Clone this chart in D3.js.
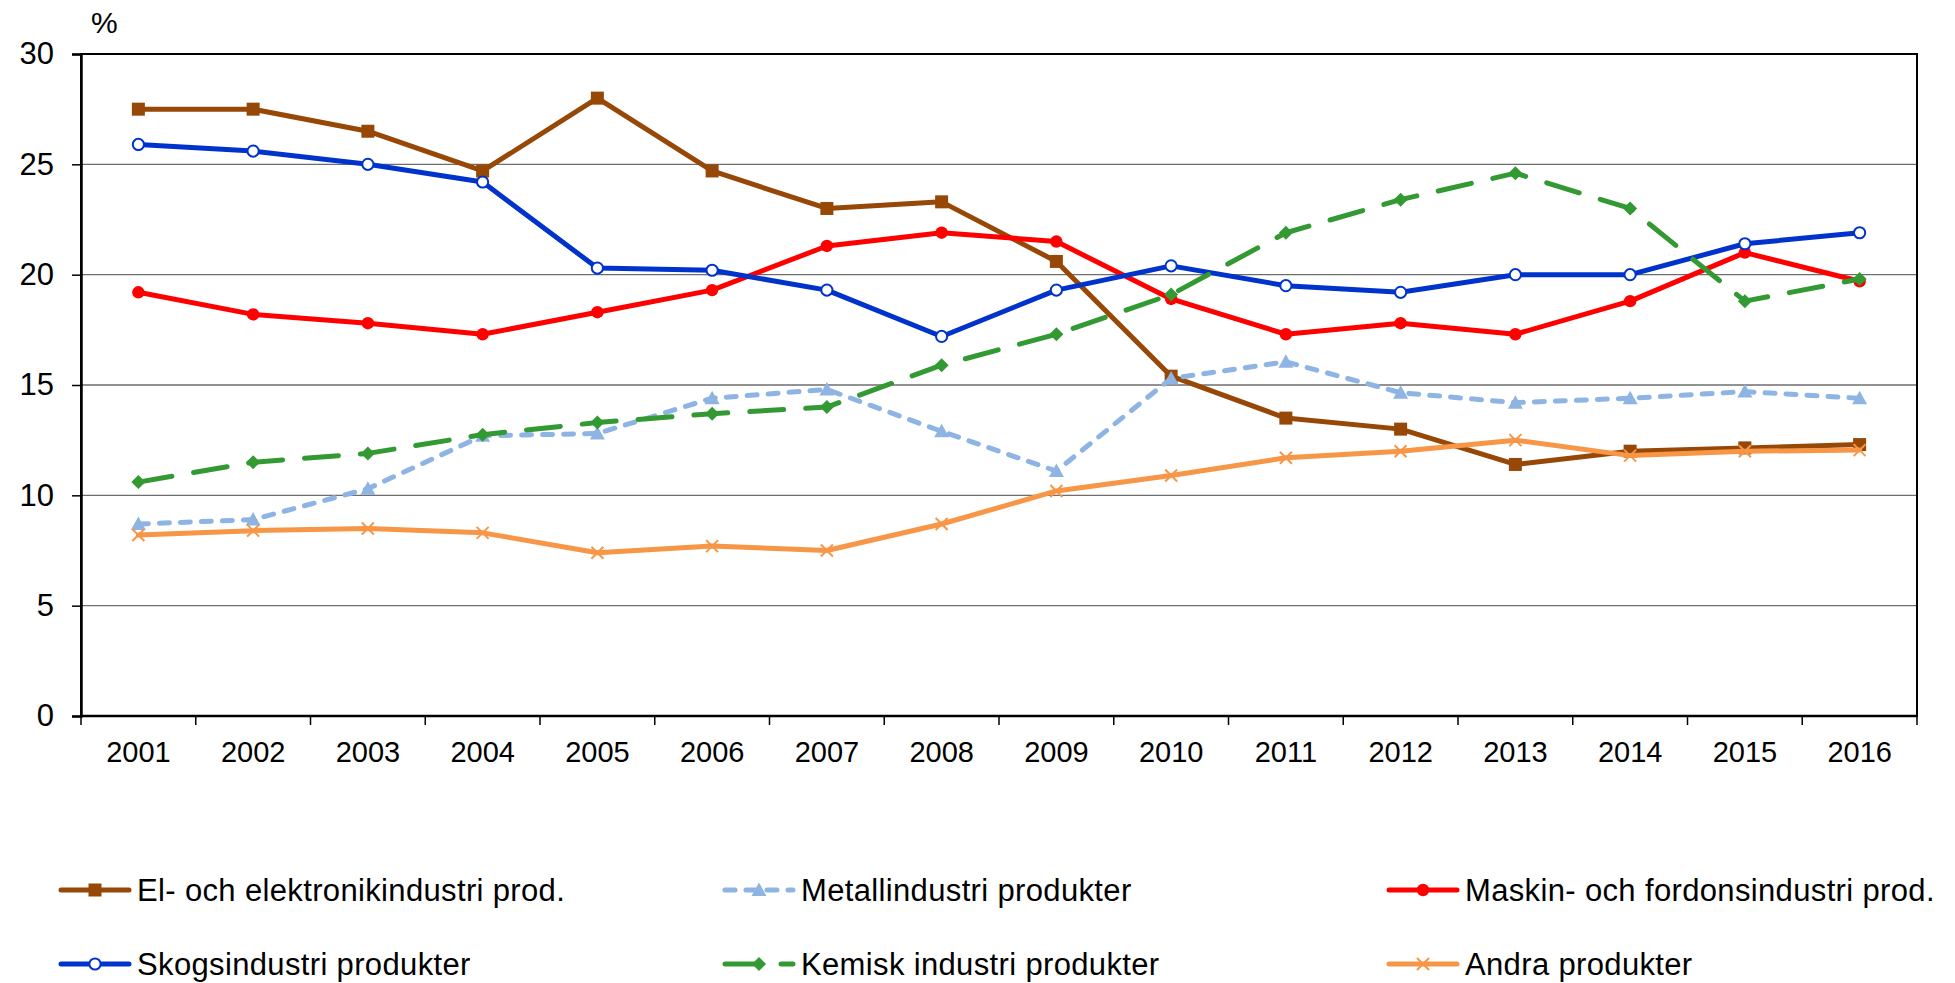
<!DOCTYPE html>
<html><head><meta charset="utf-8">
<script src="https://cdn.jsdelivr.net/npm/d3@7"></script>
<style>body{margin:0;background:#fff}svg{display:block}text{font-family:"Liberation Sans",Arial,sans-serif;fill:#000}</style>
</head><body>
<svg id="c" width="1955" height="983"></svg>
<script>
const years = ["2001","2002","2003","2004","2005","2006","2007","2008","2009","2010","2011","2012","2013","2014","2015","2016"];
const yTicks = [0,5,10,15,20,25,30];
const elValues = [27.5,27.5,26.5,24.7,28.0,24.7,23.0,23.3,20.6,15.4,13.5,13.0,11.4,12.0,12.15,12.3];
const metallValues = [8.7,8.9,10.3,12.7,12.8,14.4,14.8,12.9,11.1,15.3,16.05,14.65,14.2,14.4,14.7,14.4];
const maskinValues = [19.2,18.2,17.8,17.3,18.3,19.3,21.3,21.9,21.5,18.9,17.3,17.8,17.3,18.8,21.0,19.7];
const skogValues = [25.9,25.6,25.0,24.2,20.3,20.2,19.3,17.2,19.3,20.4,19.5,19.2,20.0,20.0,21.4,21.9];
const kemiskValues = [10.6,11.5,11.9,12.75,13.3,13.7,14.0,15.9,17.3,19.1,21.9,23.4,24.6,23.0,18.8,19.8];
const andraValues = [8.2,8.4,8.5,8.3,7.4,7.7,7.5,8.7,10.2,10.9,11.7,12.0,12.5,11.8,12.0,12.05];
const seriesNames = ["El- och elektronikindustri prod.","Metallindustri produkter","Maskin- och fordonsindustri prod.","Skogsindustri produkter","Kemisk industri produkter","Andra produkter"];

const series = [
  {name:seriesNames[0], values:elValues, color:"#974706", dash:null, marker:"square"},
  {name:seriesNames[1], values:metallValues, color:"#8EB4E3", dash:"10,11", marker:"triangle"},
  {name:seriesNames[2], values:maskinValues, color:"#FF0000", dash:null, marker:"dot"},
  {name:seriesNames[3], values:skogValues, color:"#0033CC", dash:null, marker:"open"},
  {name:seriesNames[4], values:kemiskValues, color:"#339933", dash:"34,22", marker:"diamond"},
  {name:seriesNames[5], values:andraValues, color:"#F79646", dash:null, marker:"cross"}
];

const L=81, R=1917, T=54, B=716;
const svg = d3.select("#c");
const x = d3.scaleBand().domain(years).range([L,R]);
const y = d3.scaleLinear().domain([0,30]).range([B,T]);

svg.append("g").selectAll("line").data(yTicks.filter(d=>d>0&&d<30)).join("line")
  .attr("x1",L).attr("x2",R).attr("y1",d=>y(d)).attr("y2",d=>y(d))
  .attr("stroke","#6e6e6e").attr("stroke-width",1.3);

svg.append("rect").attr("x",L).attr("y",T).attr("width",R-L).attr("height",B-T)
  .attr("fill","none").attr("stroke","#000").attr("stroke-width",2);

const ya = svg.append("g").attr("transform",`translate(${L},0)`)
  .call(d3.axisLeft(y).tickValues(yTicks).tickSize(9).tickPadding(18).tickFormat(d3.format("d")));
ya.select(".domain").attr("stroke","#000").attr("stroke-width",2.5);
ya.selectAll(".tick line").attr("stroke","#000").attr("stroke-width",1.5);
ya.selectAll("text").attr("font-size",31).attr("font-family","Liberation Sans, Arial");

const xa = svg.append("g").attr("transform",`translate(0,${B})`)
  .call(d3.axisBottom(x).tickSize(0).tickPadding(25));
xa.select(".domain").remove();
xa.selectAll("text").attr("font-size",29).attr("font-family","Liberation Sans, Arial");
svg.append("g").selectAll("line").data(years.map(d=>x(d)).concat([R])).join("line")
  .attr("x1",d=>d).attr("x2",d=>d).attr("y1",B).attr("y2",B+9)
  .attr("stroke","#000").attr("stroke-width",1.5);
svg.append("line").attr("x1",L).attr("x2",R).attr("y1",B).attr("y2",B).attr("stroke","#000").attr("stroke-width",2.5);

svg.append("text").attr("x",91).attr("y",33).attr("font-size",30).text("%");

function drawMarker(g, type, color, cx, cy){
  if(type==="square"){
    g.append("rect").attr("x",cx-6.5).attr("y",cy-6.5).attr("width",13).attr("height",13).attr("fill",color);
  } else if(type==="triangle"){
    g.append("path").attr("d",`M${cx},${cy-7.5}L${cx+7.5},${cy+6}L${cx-7.5},${cy+6}Z`).attr("fill",color);
  } else if(type==="dot"){
    g.append("circle").attr("cx",cx).attr("cy",cy).attr("r",6.2).attr("fill",color);
  } else if(type==="open"){
    g.append("circle").attr("cx",cx).attr("cy",cy).attr("r",5.6).attr("fill","#fff").attr("stroke",color).attr("stroke-width",2);
  } else if(type==="diamond"){
    g.append("path").attr("d",`M${cx},${cy-7}L${cx+7},${cy}L${cx},${cy+7}L${cx-7},${cy}Z`).attr("fill",color);
  } else if(type==="cross"){
    g.append("path").attr("d",`M${cx-6},${cy-6}L${cx+6},${cy+6}M${cx+6},${cy-6}L${cx-6},${cy+6}`)
      .attr("stroke",color).attr("stroke-width",2).attr("fill","none");
  }
}

const line = d3.line().x((d,i)=>x(years[i])+x.bandwidth()/2).y(d=>y(d));
series.forEach(s=>{
  const g = svg.append("g");
  g.append("path").attr("d",line(s.values)).attr("fill","none")
    .attr("stroke",s.color).attr("stroke-width",5)
    .attr("stroke-linejoin","round").attr("stroke-linecap","round")
    .attr("stroke-dasharray",s.dash);
  s.values.forEach((v,i)=>drawMarker(g,s.marker,s.color,x(years[i])+x.bandwidth()/2,y(v)));
});

const legCols = [59, 723, 1387];
const legRows = [890, 964];
series.forEach((s,i)=>{
  const lx = legCols[i%3], ly = legRows[Math.floor(i/3)];
  const g = svg.append("g");
  g.append("line").attr("x1",lx+2).attr("x2",lx+70).attr("y1",ly).attr("y2",ly)
    .attr("stroke",s.color).attr("stroke-width",5).attr("stroke-linecap","round")
    .attr("stroke-dasharray",s.dash);
  drawMarker(g,s.marker,s.color,lx+36,ly);
  g.append("text").attr("x",lx+78).attr("y",ly+11).attr("font-size",31)
    .attr("letter-spacing","0.35px").text(s.name);
});
</script>
</body></html>
